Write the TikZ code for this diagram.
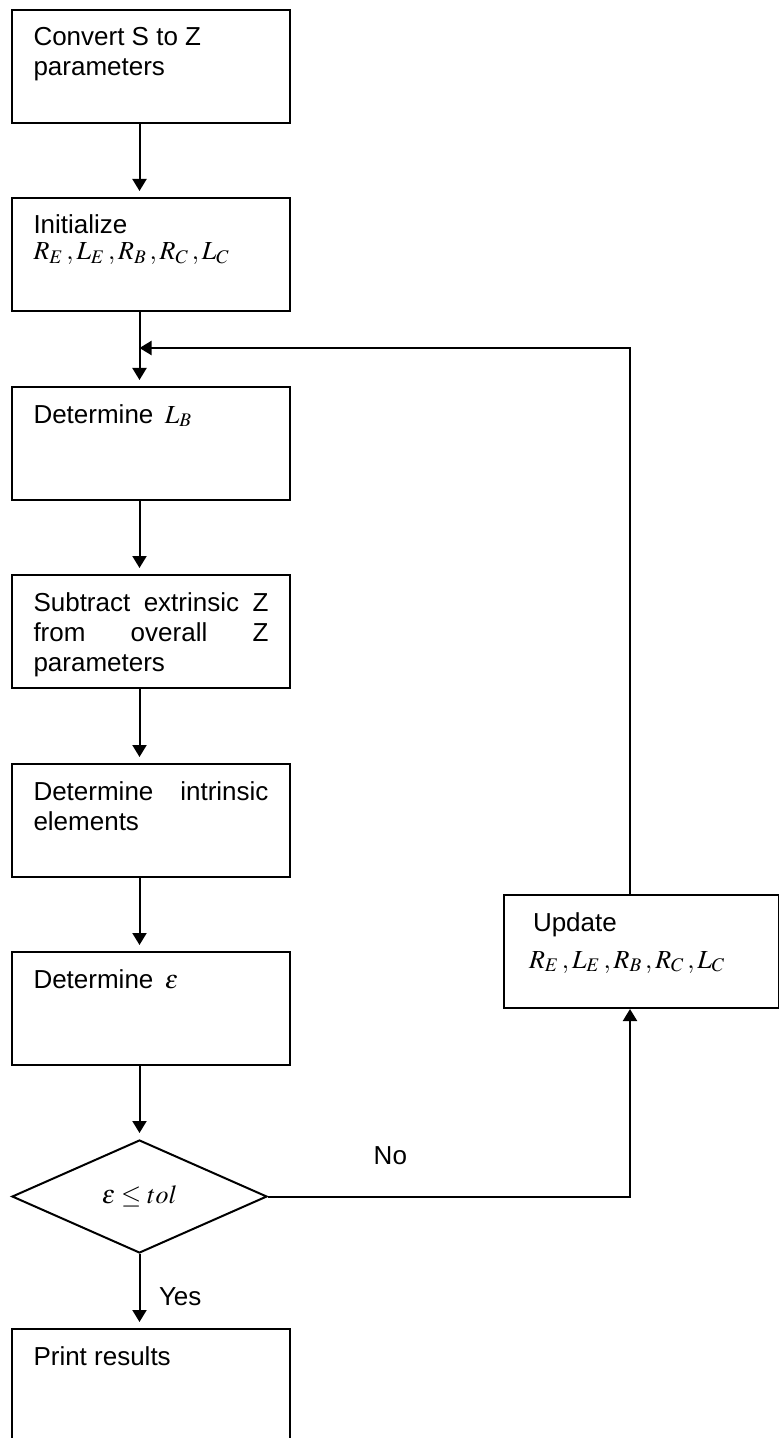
\documentclass[tikz,border=0pt]{standalone}
\usepackage{mathptmx}
\usepackage[no-math]{fontspec}
\setmainfont{Liberation Sans}
\usepackage{tikz}
\usetikzlibrary{shapes.geometric,arrows.meta,calc}

% text block of a step box, top aligned
\newcommand{\steptext}[1]{\begin{minipage}[t][41.5pt][t]{117.5pt}\strut#1\end{minipage}}
\newcommand{\elems}{$R_E\,, L_E\,, R_B\,, R_C\,, L_C$}

\begin{document}
\begin{tikzpicture}[x=0.5pt,y=-0.5pt,
    font=\fontsize{13}{15}\selectfont,
    stepbox/.style={draw, line width=1pt, rectangle, inner xsep=10.75pt, inner ysep=7.5pt, anchor=north west},
    decision/.style={draw, line width=1pt, diamond, minimum width=127.5pt, minimum height=56.5pt, inner sep=0pt},
    flow/.style={line width=1pt, -{Triangle[length=6pt,width=7pt]}},
    down/.style={flow, shorten >=3pt}]
    \clip (0,0) rectangle (779,1438);
    \coordinate (axis) at (139.5,0);
    \coordinate (back) at (630,0);
    \coordinate (join) at (139.5,348);

    % main column
    \node[stepbox] (conv) at (11,9) {\steptext{Convert S to Z\\parameters}};
    \node[stepbox] (init) at (11,197) {\steptext{Initialize\\[-2pt]\elems}};
    \node[stepbox] (lb) at (11,386) {\steptext{Determine \,$L_B$}};
    \node[stepbox] (sub) at (11,574) {\steptext{Subtract\hfill extrinsic\hfill Z\\from\hfill overall\hfill Z\\parameters}};
    \node[stepbox] (intr) at (11,763) {\steptext{Determine\hfill intrinsic\\elements}};
    \node[stepbox] (eps) at (11,951) {\steptext{Determine \,$\varepsilon$}};
    \node[decision] (test) at (139.5,1196.5) {$\varepsilon\le tol$};
    \node[stepbox] (print) at (11,1328) {\steptext{Print results}};

    % loop back
    \node[stepbox, inner xsep=10pt] (upd) at (503,894) {\steptext{\hspace*{4.5pt}Update\\[3.5pt]\hspace*{2.5pt}\elems}};

    \draw[down] (conv.south -| axis) -- (init.north -| axis);
    \draw[down] (init.south -| axis) -- (lb.north -| axis);
    \draw[down] (lb.south -| axis) -- (sub.north -| axis);
    \draw[down] (sub.south -| axis) -- (intr.north -| axis);
    \draw[down] (intr.south -| axis) -- (eps.north -| axis);
    \draw[down] (eps.south -| axis) -- (test.north);
    \draw[down] (test.south) -- (print.north -| axis)
        node[pos=0.693, anchor=base west, inner sep=0pt, xshift=9.25pt] {Yes};
    \draw[flow] (test.east) -| (upd.south -| back)
        node[pos=0.169, anchor=base, inner sep=0pt, yshift=16pt] {No};
    \draw[flow] (upd.north -| back) |- (join);
\end{tikzpicture}
\end{document}
